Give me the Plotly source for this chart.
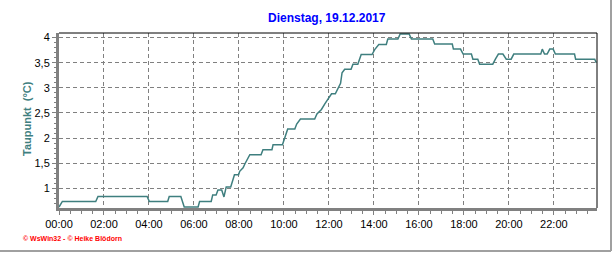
import plotly.graph_objects as go

# ---- data ----
times = ["00:00","00:09","01:38","01:44","03:55","04:01","04:50","04:54","05:25","05:34",
         "06:11","06:15","06:46","06:50","06:59","07:04","07:14","07:20","07:26","07:38",
         "07:48","07:59","08:02","08:11","08:16","08:22","08:29","08:59","09:04","09:28",
         "09:31","09:56","10:02","10:10","10:29","10:34","10:44","11:22","11:28","11:40",
         "11:49","11:58","12:07","12:17","12:24","12:31","12:35","12:42","12:59","13:04",
         "13:17","13:26","13:55","14:02","14:13","14:33","14:37","15:04","15:10","15:34",
         "15:40","16:37","16:42","17:29","17:32","17:51","17:58","18:20","18:24","18:37",
         "18:42","19:17","19:24","19:32","19:44","19:53","20:06","20:13","21:25","21:29",
         "21:35","21:42","21:49","21:58","22:04","22:55","22:58","23:49","23:53"]
taupunkt = [0.63,0.74,0.74,0.84,0.84,0.74,0.74,0.84,0.84,0.63,
            0.63,0.74,0.74,0.87,0.87,0.97,0.97,0.83,1.03,1.03,
            1.27,1.27,1.34,1.41,1.49,1.57,1.67,1.67,1.77,1.77,
            1.87,1.87,2.00,2.18,2.18,2.28,2.38,2.38,2.48,2.57,
            2.68,2.78,2.88,2.88,2.99,3.09,3.30,3.37,3.37,3.47,
            3.47,3.66,3.66,3.76,3.86,3.86,3.97,3.97,4.07,4.07,
            3.97,3.97,3.87,3.87,3.77,3.77,3.67,3.67,3.57,3.57,
            3.47,3.47,3.57,3.67,3.67,3.57,3.57,3.67,3.67,3.77,
            3.67,3.67,3.77,3.77,3.67,3.67,3.57,3.57,3.50]
day = "2017-12-19"
title_text = "Dienstag, 19.12.2017"
y_title = "Taupunkt  (°C)"
footer = "© WsWin32 - © Heike Blödorn"
y_ticks = [1, 1.5, 2, 2.5, 3, 3.5, 4]

x = [f"{day} {t}" for t in times]

# ---- geometry (pixels) ----
W, H = 616, 253
L, R, T, B = 59, 597, 33, 208
pw, ph = R - L, B - T

def px(xp):
    return (xp - L) / pw

def py(yp):
    return (B - yp) / ph

fig = go.Figure()
fig.add_trace(go.Scatter(x=x, y=taupunkt, mode="lines",
                         line=dict(color="#3f7f7f", width=1.5),
                         hoverinfo="skip", showlegend=False))

tickfont = dict(family="Liberation Sans, Arial, sans-serif", size=11, color="black")
grid = dict(showgrid=True, gridcolor="#808080", gridwidth=1, griddash="4px,3px")

fig.update_layout(
    width=W, height=H,
    margin=dict(l=L, r=W - R, t=T, b=H - B),
    paper_bgcolor="white", plot_bgcolor="white",
    separators=",.",
    xaxis=dict(type="date",
               range=[f"{day} 00:00", f"{day} 23:55"],
               tickformat="%H:%M", dtick=7200000, tick0=f"{day} 00:00",
               ticks="outside", ticklen=4, tickcolor="#808080", tickwidth=1,
               minor=dict(dtick=1800000, ticks="outside", ticklen=3,
                          tickcolor="#808080", showgrid=False),
               showline=True, linecolor="#808080", linewidth=3,
               tickfont=tickfont, zeroline=False, **grid),
    yaxis=dict(range=[0.61, 4.09],
               tickmode="array", tickvals=y_ticks,
               ticks="outside", ticklen=4, tickcolor="#808080", tickwidth=1,
               minor=dict(dtick=0.1, tick0=0, ticks="outside", ticklen=2,
                          tickcolor="#808080", showgrid=False),
               showline=True, linecolor="#808080", linewidth=3,
               tickfont=tickfont, zeroline=False, **grid),
)

# top/right black borders of plot area
fig.add_shape(type="line", xref="paper", yref="paper", x0=0, x1=1, y0=1, y1=1,
              line=dict(color="black", width=1))
fig.add_shape(type="line", xref="paper", yref="paper", x0=1, x1=1, y0=0, y1=1,
              line=dict(color="black", width=1))
# outer frame (right and bottom gray)
fig.add_shape(type="line", xref="paper", yref="paper",
              x0=px(0), x1=px(611), y0=py(251), y1=py(251),
              line=dict(color="#a0a0a0", width=2))
fig.add_shape(type="line", xref="paper", yref="paper",
              x0=px(611), x1=px(611), y0=py(0), y1=py(251),
              line=dict(color="#a0a0a0", width=2))

fig.add_annotation(text=f"<b>{title_text}</b>", xref="paper", yref="paper",
                   x=px(327), y=py(18), xanchor="center", yanchor="middle",
                   showarrow=False,
                   font=dict(family="Liberation Sans, Arial, sans-serif", size=12, color="#0000ff"))
fig.add_annotation(text=f"<b>{y_title}</b>", xref="paper", yref="paper",
                   x=px(27), y=py(119), xanchor="center", yanchor="middle",
                   textangle=-90, showarrow=False,
                   font=dict(family="Liberation Sans, Arial, sans-serif", size=11, color="#3f7f7f"))
fig.add_annotation(text=f"<b>{footer}</b>", xref="paper", yref="paper",
                   x=px(21), y=py(238), xanchor="left", yanchor="middle",
                   showarrow=False,
                   font=dict(family="Liberation Sans, Arial, sans-serif", size=7, color="#ff0000"))

fig.write_html("out.html")
